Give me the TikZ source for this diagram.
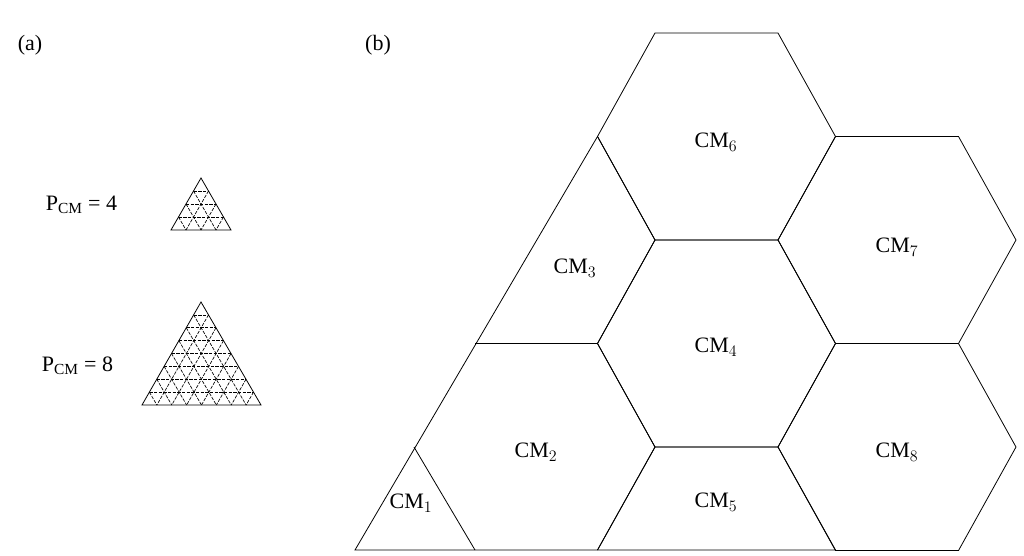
\documentclass[tikz,border=0pt]{standalone}
\usepackage{fontspec}
\setmainfont{Liberation Serif}
\usetikzlibrary{calc}
\begin{document}
\begin{tikzpicture}[x=0.75pt,y=-0.75pt,line width=0.6pt,line join=miter,
  lab/.style={font=\fontsize{16.5}{19}\selectfont},
  grid/.style={line width=0.5pt,dash pattern=on 2.5pt off 1pt}]
\useasboundingbox (0,0) rectangle (1024,556);
\node[lab] (la) at (30,45) {(a)};
\node[lab] (lb) at (378,45) {(b)};
% triangles
\node[lab,anchor=east] (p4) at (122,205) {P\textsubscript{CM} = 4};
\node[lab,anchor=east] (p8) at (118,366) {P\textsubscript{CM} = 8};
\foreach \nm/\ax/\ay/\bx/\by/\cx/\n in {s/201/178/171/230/231/4, b/201/302/142/405/261/8}{
  \coordinate (\nm A) at (\ax,\ay);
  \coordinate (\nm B) at (\bx,\by);
  \coordinate (\nm C) at (\cx,\by);
  \draw (\nm A) -- (\nm B) -- (\nm C) -- cycle;
  \pgfmathtruncatemacro{\m}{\n-1}
  \foreach \i in {1,...,\m}{
    \draw[grid] ($(\nm A)!\i/\n!(\nm B)$) -- ($(\nm A)!\i/\n!(\nm C)$);
    \draw[grid] ($(\nm B)!\i/\n!(\nm A)$) -- ($(\nm B)!\i/\n!(\nm C)$);
    \draw[grid] ($(\nm C)!\i/\n!(\nm A)$) -- ($(\nm C)!\i/\n!(\nm B)$);
  }
}
% hexagons
\foreach \cx/\cy in {716.5/136.5, 716.5/343.5, 897/240, 897/447}{
  \draw (\cx-61.5,\cy-103.5) -- (\cx+61.5,\cy-103.5) -- (\cx+119,\cy) -- (\cx+61.5,\cy+103.5) -- (\cx-61.5,\cy+103.5) -- (\cx-119,\cy) -- cycle;
}
\draw (597.5,550) -- (655,447) -- (778,447) -- (835.5,550);
\draw (597.5,136.5) -- (655,240) -- (597.5,343.5) -- (475,343.5);
\draw (597.5,343.5) -- (655,447) -- (597.5,550);
\draw (414,447) -- (475,550);
\draw (597.5,136.5) -- (355,550) -- (835.5,550);
\node[lab] (c6) at (716,142) {CM$_6$};
\node[lab] (c7) at (897,247) {CM$_7$};
\node[lab] (c3) at (575,268) {CM$_3$};
\node[lab] (c4) at (716,347) {CM$_4$};
\node[lab] (c2) at (536,452) {CM$_2$};
\node[lab] (c8) at (897,452) {CM$_8$};
\node[lab] (c5) at (716,502) {CM$_5$};
\node[lab] (c1) at (411,503) {CM$_1$};
\end{tikzpicture}
\end{document}
